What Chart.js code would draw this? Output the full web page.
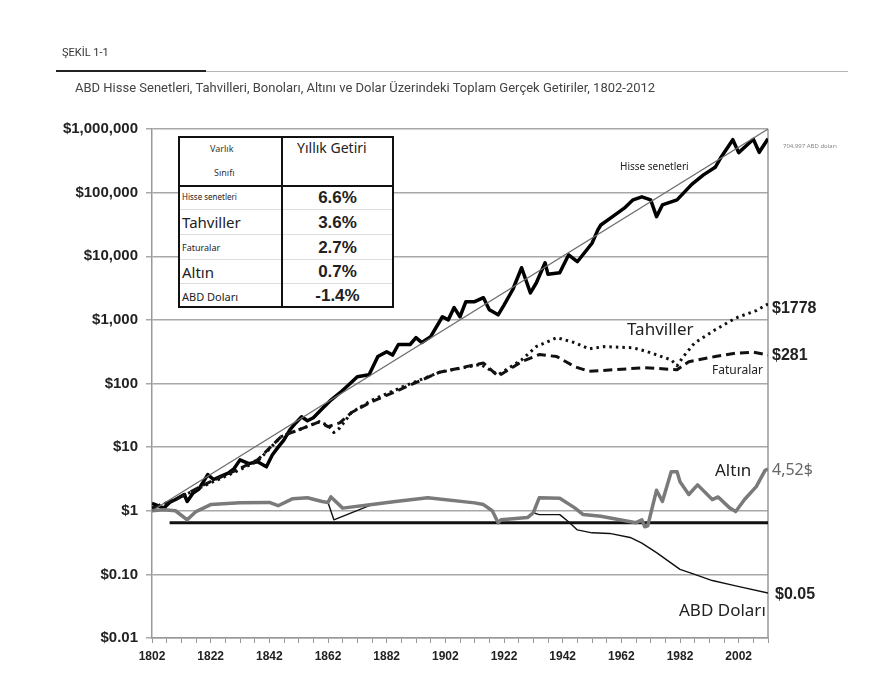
<!DOCTYPE html>
<html lang="tr">
<head>
<meta charset="utf-8">
<title>Şekil 1-1</title>
<script src="https://cdn.jsdelivr.net/npm/chart.js@4.4.1/dist/chart.umd.min.js"></script>
<style>
  html, body { margin: 0; padding: 0; background: #fff; }
  body { width: 892px; height: 682px; position: relative; overflow: hidden; font-family: Roboto, "Liberation Sans", sans-serif; }
  #wrap { position: absolute; left: 0; top: 0; width: 892px; height: 682px; }
  .txt { position: absolute; white-space: nowrap; line-height: 1; color: #222; }
  .fig { left: 62px; top: 47px; font-size: 11px; color: #333; }
  .rule-dark { position: absolute; left: 56px; top: 70px; width: 150px; height: 2px; background: #222; }
  .rule-light { position: absolute; left: 56px; top: 71px; width: 792px; height: 1px; background: #b5b5b5; }
  .sub { left: 75px; top: 81px; font-size: 13px; color: #444; }
  .end { font-family: "Liberation Sans", Arial, sans-serif; font-weight: bold; font-size: 16px; color: #222; }
  .lbl { font-family: "Noto Sans", "DejaVu Sans", sans-serif; color: #222; }

  #tbl { position: absolute; left: 178px; top: 136px; width: 216px; height: 172px;
         border: 2px solid #111; box-sizing: border-box; background: #fff;
         font-family: "Noto Sans", "DejaVu Sans", sans-serif; }
  #tbl .col1 { position: absolute; left: 0; top: 0; width: 101px; height: 100%; border-right: 2px solid #111; box-sizing: content-box; }
  #tbl .head { position: absolute; left: 0; top: 0; width: 212px; height: 47px; border-bottom: 2px solid #111; }
  #tbl .row { position: absolute; height: 24px; border-bottom: 1px solid #ddd; box-sizing: border-box; }
  #tbl .c1 { left: 0; width: 101px; }
  #tbl .c2 { left: 103px; width: 109px; text-align: center; font-family: "Liberation Sans", Arial, sans-serif; font-weight: bold; font-size: 17px; color: #222; }
  #tbl .name { position: absolute; left: 2px; top: 50%; transform: translateY(-50%); white-space: nowrap; color: #222; line-height: 1; }
</style>
</head>
<body>
<div id="wrap"><canvas id="chart"></canvas></div>

<div class="txt fig">ŞEKİL 1-1</div>
<div class="rule-light"></div>
<div class="rule-dark"></div>
<div class="txt sub">ABD Hisse Senetleri, Tahvilleri, Bonoları, Altını ve Dolar Üzerindeki Toplam Gerçek Getiriler, 1802-2012</div>

<div id="tbl">
  <div class="col1"></div>
  <div class="head"></div>
  <div class="txt" style="left:30px;top:6px;font-size:9px;color:#333;">Varlık</div>
  <div class="txt" style="left:34px;top:30px;font-size:9px;color:#333;">Sınıfı</div>
  <div class="txt" style="left:117px;top:3px;font-size:14px;color:#222;">Yıllık Getiri</div>
  <div id="rows"></div>
</div>

<div class="txt lbl" style="left:620px;top:161px;font-size:10px;">Hisse senetleri</div>
<div class="txt lbl" style="left:783px;top:143px;font-size:6px;color:#888;">704.997 ABD doları</div>
<div class="txt end" style="left:772px;top:300px;">$1778</div>
<div class="txt lbl" style="left:627px;top:320px;font-size:17px;">Tahviller</div>
<div class="txt end" style="left:772px;top:347px;">$281</div>
<div class="txt lbl" style="left:712px;top:364px;font-size:12px;">Faturalar</div>
<div class="txt lbl" style="left:715px;top:461px;font-size:17px;">Altın</div>
<div class="txt lbl" style="left:772px;top:461px;font-size:16px;color:#666;">4,52$</div>
<div class="txt end" style="left:775px;top:586px;">$0.05</div>
<div class="txt lbl" style="left:679px;top:601px;font-size:17px;">ABD Doları</div>

<script>
// Table content
const assetNames = ['Hisse senetleri', 'Tahviller', 'Faturalar', 'Altın', 'ABD Doları'];
const assetNameSizes = [8, 15, 9, 15, 11];
const annualReturns = ['6.6%', '3.6%', '2.7%', '0.7%', '-1.4%'];

// Axis tick labels
const yTickValues = [0.01, 0.1, 1, 10, 100, 1000, 10000, 100000, 1000000];
const yTickLabels = ['$0.01', '$0.10', '$1', '$10', '$100', '$1,000', '$10,000', '$100,000', '$1,000,000'];
const xTickLabelYears = [1802, 1822, 1842, 1862, 1882, 1902, 1922, 1942, 1962, 1982, 2002];

// Series (real value of $1 invested in 1802)
const trendYears = [1802, 2012];
const trendValues = [1, 1000000];

const stockYears = [1802, 1804, 1806, 1808, 1810, 1813, 1814, 1816, 1818, 1821, 1823, 1825, 1828, 1830, 1832, 1835, 1838, 1841, 1843, 1845, 1847, 1849, 1851, 1853, 1855, 1857, 1860, 1863, 1866, 1869, 1872, 1876, 1879, 1882, 1884, 1886, 1890, 1892, 1894, 1897, 1901, 1903, 1905, 1907, 1909, 1912, 1915, 1917, 1920, 1922, 1925, 1928, 1931, 1933, 1936, 1937, 1941, 1944, 1947, 1952, 1954, 1955, 1959, 1963, 1966, 1969, 1972, 1974, 1976, 1981, 1986, 1990, 1994, 1996, 2000, 2002, 2007, 2009, 2012];
const stockValues = [1.3, 1.2, 1.1, 1.35, 1.5, 1.8, 1.4, 1.9, 2.2, 3.7, 3.1, 3.4, 3.9, 4.6, 6.3, 5.5, 5.9, 4.9, 7.5, 10, 13, 18.7, 24, 30, 26, 29, 40, 55, 71, 95, 128, 137, 265, 315, 280, 410, 410, 525, 440, 545, 1120, 1000, 1560, 1120, 1930, 1930, 2230, 1440, 1200, 1700, 3000, 6600, 2660, 3800, 7900, 5200, 5500, 10500, 8200, 16000, 26000, 31000, 42000, 57000, 77000, 86000, 77000, 42000, 64000, 77000, 135000, 190000, 250000, 360000, 680000, 425000, 690000, 430000, 705000];

const bondYears = [1802, 1810, 1820, 1830, 1838, 1846, 1852, 1859, 1862, 1864, 1866, 1870, 1877, 1889, 1900, 1914, 1920, 1928, 1933, 1940, 1946, 1951, 1956, 1966, 1971, 1979, 1981, 1983, 1987, 1994, 2001, 2008, 2012];
const bondValues = [1.1, 1.5, 2.5, 4, 6, 14.6, 18.7, 25, 22, 17, 20, 35, 55, 95, 150, 200, 137, 235, 380, 525, 440, 350, 380, 365, 315, 235, 190, 260, 435, 700, 1070, 1400, 1778];

const billYears = [1802, 1810, 1820, 1830, 1838, 1846, 1852, 1859, 1862, 1866, 1870, 1877, 1889, 1900, 1915, 1920, 1928, 1934, 1940, 1946, 1951, 1960, 1970, 1981, 1985, 1994, 2001, 2007, 2012];
const billValues = [1.1, 1.5, 2.6, 4.2, 6.3, 14.6, 18.7, 25, 21, 24, 35, 52, 90, 150, 210, 130, 220, 285, 265, 185, 155, 165, 177, 165, 220, 265, 300, 310, 281];

const goldYears = [1802, 1806, 1810, 1814, 1817, 1822, 1832, 1842, 1845, 1850, 1855, 1860, 1862, 1863, 1867, 1877, 1885, 1896, 1912, 1915, 1918, 1920, 1921, 1930, 1932, 1934, 1941, 1946, 1949, 1955, 1967, 1969, 1970, 1971, 1974, 1976, 1979, 1981, 1982, 1985, 1988, 1993, 1995, 1999, 2001, 2004, 2008, 2011, 2012];
const goldValues = [1.0, 1.04, 1.0, 0.72, 0.97, 1.25, 1.33, 1.35, 1.2, 1.55, 1.6, 1.4, 1.35, 1.65, 1.1, 1.25, 1.4, 1.6, 1.33, 1.25, 1.0, 0.65, 0.72, 0.78, 0.93, 1.6, 1.57, 1.12, 0.87, 0.82, 0.65, 0.72, 0.56, 0.58, 2.1, 1.4, 4.1, 4.1, 2.85, 1.8, 2.55, 1.5, 1.65, 1.1, 0.97, 1.5, 2.4, 4.3, 4.52];

const dollarYears = [1802, 1806, 1810, 1814, 1817, 1822, 1832, 1842, 1845, 1850, 1855, 1860, 1862, 1864, 1871, 1877, 1885, 1896, 1912, 1915, 1918, 1920, 1921, 1930, 1932, 1934, 1941, 1944, 1947, 1952, 1958, 1965, 1969, 1974, 1982, 1987, 1993, 2001, 2012];
const dollarValues = [1.0, 1.04, 1.0, 0.72, 0.97, 1.25, 1.33, 1.35, 1.2, 1.55, 1.6, 1.4, 1.35, 0.72, 0.97, 1.25, 1.4, 1.6, 1.33, 1.25, 1.0, 0.65, 0.72, 0.78, 0.93, 0.87, 0.87, 0.67, 0.5, 0.45, 0.44, 0.38, 0.31, 0.22, 0.12, 0.1, 0.08, 0.066, 0.051];

const baselineYears = [1808, 2012];
const baselineValues = [0.65, 0.65];

// Build table rows
const rowsEl = document.getElementById('rows');
const rowHeights = [25, 25, 25, 24, 24];
let rowTop = 47;
assetNames.forEach((name, i) => {
  const h = rowHeights[i];
  const left = document.createElement('div');
  left.className = 'row c1';
  left.style.top = rowTop + 'px';
  left.style.height = h + 'px';
  const span = document.createElement('span');
  span.className = 'name';
  span.style.fontSize = assetNameSizes[i] + 'px';
  span.textContent = name;
  left.appendChild(span);
  const right = document.createElement('div');
  right.className = 'row c2';
  right.style.top = rowTop + 'px';
  right.style.height = h + 'px';
  right.style.lineHeight = h + 'px';
  right.textContent = annualReturns[i];
  if (i === assetNames.length - 1) { left.style.borderBottom = 'none'; right.style.borderBottom = 'none'; }
  rowsEl.appendChild(left);
  rowsEl.appendChild(right);
  rowTop += h;
});

function pts(xs, ys) {
  return xs.map((x, i) => ({ x: x, y: ys[i] }));
}

// right-hand frame line of the plot
const frameRight = {
  id: 'frameRight',
  beforeDatasetsDraw(chart) {
    const a = chart.chartArea;
    const ctx = chart.ctx;
    ctx.save();
    ctx.strokeStyle = '#999';
    ctx.lineWidth = 1.5;
    ctx.beginPath();
    ctx.moveTo(a.right, a.top);
    ctx.lineTo(a.right, a.bottom);
    ctx.stroke();
    ctx.restore();
  }
};

const line = (data, color, width, dash) => ({
  data: data,
  borderColor: color,
  borderWidth: width,
  borderDash: dash || [],
  pointRadius: 0,
  tension: 0,
  fill: false,
  borderJoinStyle: 'round'
});

new Chart(document.getElementById('chart'), {
  type: 'line',
  data: {
    datasets: [
      line(pts(trendYears, trendValues), '#6e6e6e', 1.2),
      line(pts(goldYears, goldValues), '#7a7a7a', 3.5),
      line(pts(dollarYears, dollarValues), '#111', 1.4),
      line(pts(baselineYears, baselineValues), '#111', 3),
      line(pts(billYears, billValues), '#111', 3, [9, 5]),
      line(pts(bondYears, bondValues), '#111', 3, [2.5, 4]),
      line(pts(stockYears, stockValues), '#000', 3.5)
    ]
  },
  options: {
    responsive: true,
    maintainAspectRatio: false,
    animation: false,
    layout: { padding: { left: 0, top: 129, right: 124, bottom: 0 } },
    plugins: { legend: { display: false }, tooltip: { enabled: false } },
    scales: {
      x: {
        type: 'linear',
        min: 1802,
        max: 2012,
        afterFit: s => { s.height = 44; },
        afterBuildTicks: s => {
          const t = [];
          for (let v = 1802; v <= 2012; v += 5) t.push({ value: v });
          s.ticks = t;
        },
        ticks: {
          autoSkip: false,
          maxRotation: 0,
          padding: 6,
          color: '#222',
          font: { family: '"Liberation Sans", Arial, sans-serif', weight: 'bold', size: 12 },
          callback: v => xTickLabelYears.includes(v) ? String(v) : ''
        },
        grid: { drawOnChartArea: false, tickLength: 5, color: '#999', lineWidth: 1 },
        border: { color: '#999', width: 1.5 }
      },
      y: {
        type: 'logarithmic',
        min: 0.01,
        max: 1000000,
        afterFit: s => { s.width = 152; },
        afterBuildTicks: s => { s.ticks = yTickValues.map(v => ({ value: v })); },
        ticks: {
          padding: 8,
          color: '#222',
          font: { family: '"Liberation Sans", Arial, sans-serif', weight: 'bold', size: 15 },
          callback: (v, i) => yTickLabels[yTickValues.indexOf(v)] ?? ''
        },
        grid: { color: '#a8a8a8', lineWidth: 1.5, tickLength: 6 },
        border: { color: '#999', width: 1.5 }
      }
    }
  },
  plugins: [frameRight]
});
</script>
</body>
</html>
